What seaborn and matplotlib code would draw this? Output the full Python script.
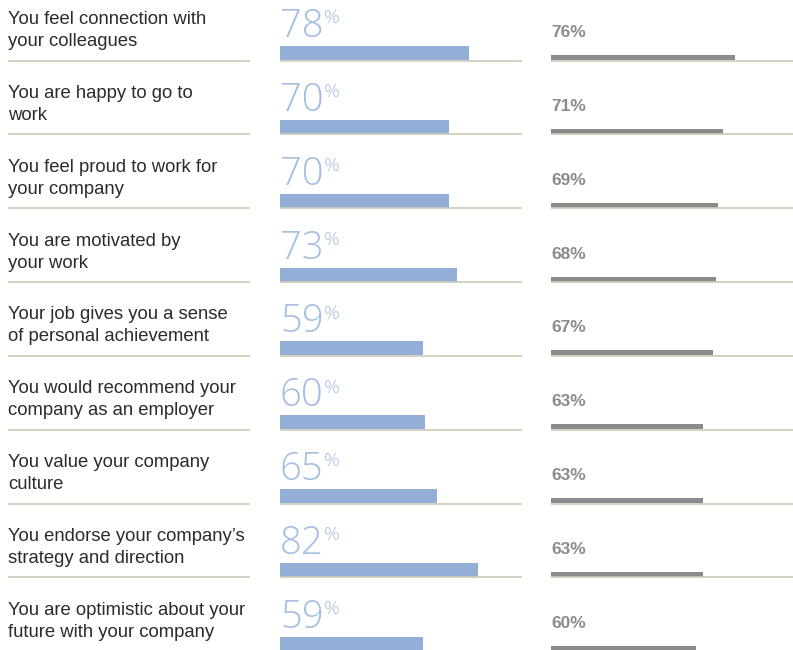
import numpy as np
import pandas as pd
import seaborn as sns
import matplotlib.pyplot as plt

# survey statements, company score vs benchmark (%)
statements = [
    "You feel connection with\nyour colleagues",
    "You are happy to go to\nwork",
    "You feel proud to work for\nyour company",
    "You are motivated by\nyour work",
    "Your job gives you a sense\nof personal achievement",
    "You would recommend your\ncompany as an employer",
    "You value your company\nculture",
    "You endorse your company\u2019s\nstrategy and direction",
    "You are optimistic about your\nfuture with your company",
]
company = [78, 70, 70, 73, 59, 60, 65, 82, 59]
benchmark = [76, 71, 69, 68, 67, 63, 63, 63, 60]

df = pd.DataFrame({"row": range(len(statements)), "company": company, "benchmark": benchmark})

sns.set_theme(style="white")
plt.rcParams["font.family"] = ["Liberation Sans", "DejaVu Sans"]

blue = "#93afd7"
blue_txt = "#a6bee2"
grey = "#8b8b8b"
sep = "#cbcbb8"
ink = "#2b2b2b"
big_font = ["Open Sans", "DejaVu Sans"]

W, H = 793, 650
row = 73.85                       # pixels per row
top = 7 / row - 60 / row          # data y at the top edge of the figure
ylim = (top + H / row, top)

fig = plt.figure(figsize=(W / 100, H / 100), dpi=100)
ax_t = fig.add_axes([0, 0, 250 / W, 1])
ax_a = fig.add_axes([280 / W, 0, 242 / W, 1])
ax_b = fig.add_axes([551 / W, 0, 242 / W, 1])

# company bars (thick, blue)
sns.barplot(data=df, x="company", y="row", orient="h", color=blue, saturation=1,
            width=14 / row, linewidth=0, ax=ax_a)
# benchmark bars (thin, grey)
sns.barplot(data=df, x="benchmark", y="row", orient="h", color=grey, saturation=1,
            width=5 / row, linewidth=0, ax=ax_b)

gshift = 7 / row - 2.5 / row
ax_a.set_ylim(*ylim)
ax_b.set_ylim(ylim[0] - gshift, ylim[1] - gshift)
ax_t.set_ylim(*ylim)
ax_t.set_xlim(0, 250)
for ax in (ax_a, ax_b):
    ax.set_xlim(0, 100)

rows = np.arange(len(statements))
ax_a.hlines(rows + 7.5 / row, 0, 100, color=sep, lw=1.2, zorder=3)
ax_b.hlines(rows + 3 / row, 0, 100, color=sep, lw=1.2, zorder=3)
ax_t.hlines(rows + 7.5 / row, 8, 250, color=sep, lw=1.2, zorder=3)

for i, (lab, a, b) in enumerate(zip(statements, company, benchmark)):
    l1, l2 = lab.split("\n")
    ax_t.text(8, i - 29 / row, l1, fontsize=13.3, color=ink, va="baseline", ha="left")
    ax_t.text(8, i - 7 / row, l2, fontsize=13.3, color=ink, va="baseline", ha="left")

    t = ax_a.text(0.0, i - 16 / row, str(a), fontsize=27.5, family=big_font,
                  fontweight="light", color=blue_txt, va="baseline", ha="left")
    ax_a.annotate("%", xy=(1, i - 16 / row), xycoords=(t, "data"),
                  xytext=(0.3, 9.8), textcoords="offset points",
                  fontsize=14, family=big_font, fontweight="light",
                  color=blue_txt, va="baseline", ha="left")

    ax_b.text(0.3, i + 2.5 / row - 23 / row, f"{b}%", fontsize=12.5, fontweight="bold",
              color=grey, va="baseline", ha="left")

for ax in (ax_t, ax_a, ax_b):
    ax.set_axis_off()

fig.savefig("out.png", dpi=100)
